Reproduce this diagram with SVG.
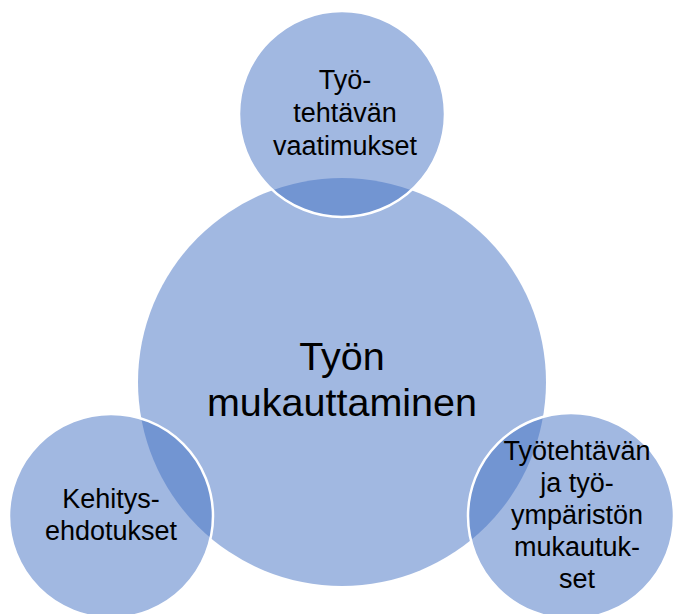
<svg xmlns="http://www.w3.org/2000/svg" width="677" height="614" viewBox="0 0 677 614">
  <style>
    .hub { fill: #4472C4; fill-opacity: 0.5; stroke: none; }
    .sat { fill: #4472C4; fill-opacity: 0.5; stroke: #FFFFFF; stroke-width: 2.5; }
    .t { font-family: "Liberation Sans", Arial, sans-serif; fill: #000000; text-anchor: middle; }
    .big { font-size: 39.5px; }
    .small { font-size: 27px; }
  </style>
  <rect width="677" height="614" fill="#FFFFFF"/>
  <g id="connectors"></g>
  <g id="center">
    <circle class="hub" cx="342" cy="382" r="204"/>
    <text class="t big" x="342" y="370">Työn</text>
    <text class="t big" x="342" y="416">mukauttaminen</text>
  </g>
  <g id="top">
    <circle class="sat" cx="342" cy="114" r="103"/>
    <text class="t small" x="345" y="89">Työ-</text>
    <text class="t small" x="345" y="122">tehtävän</text>
    <text class="t small" x="345" y="155">vaatimukset</text>
  </g>
  <g id="left">
    <circle class="sat" cx="111" cy="516" r="102"/>
    <text class="t small" x="111" y="508">Kehitys-</text>
    <text class="t small" x="111" y="540">ehdotukset</text>
  </g>
  <g id="right">
    <circle class="sat" cx="571" cy="516" r="103"/>
    <text class="t small" x="577" y="460">Työtehtävän</text>
    <text class="t small" x="577" y="492">ja työ-</text>
    <text class="t small" x="577" y="524">ympäristön</text>
    <text class="t small" x="577" y="556">mukautuk-</text>
    <text class="t small" x="577" y="588">set</text>
  </g>
</svg>
